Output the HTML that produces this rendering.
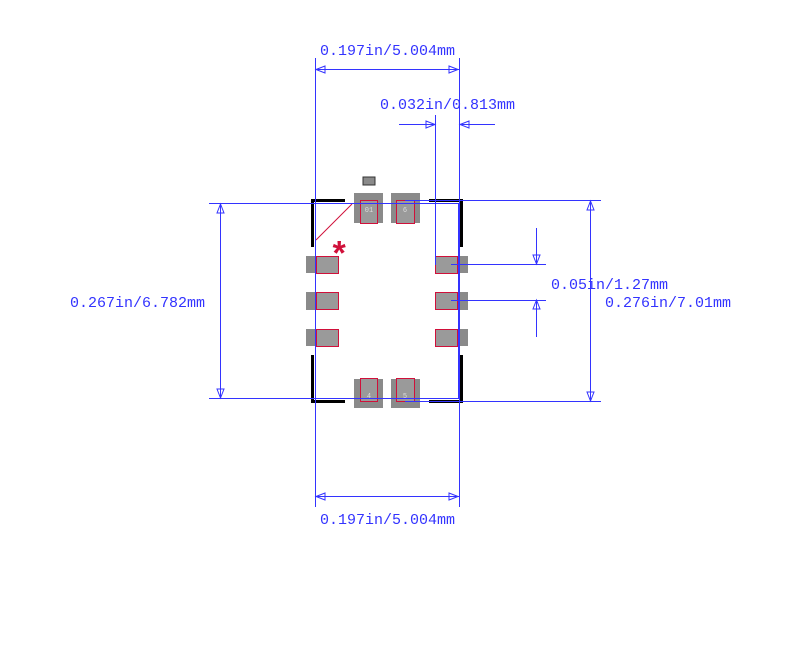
<!DOCTYPE html>
<html><head><style>body{margin:0;background:#fff}svg{display:block}</style></head>
<body>
<svg width="800" height="672" xmlns="http://www.w3.org/2000/svg" font-family="'Liberation Mono',monospace" font-size="15">
<rect width="800" height="672" fill="#fff"/>
<g fill="#8a8a8a">
<rect x="363" y="177" width="12" height="8" stroke="#333" stroke-width="1"/>
<rect x="354" y="193" width="29" height="30"/><rect x="391" y="193" width="29" height="30"/>
<rect x="354" y="379" width="29" height="29"/><rect x="391" y="379" width="29" height="29"/>
<rect x="306" y="256" width="33" height="17"/><rect x="306" y="292" width="33" height="18"/><rect x="306" y="329" width="33" height="17"/>
<rect x="435" y="256" width="33" height="17"/><rect x="435" y="292" width="33" height="18"/><rect x="435" y="329" width="33" height="17"/>
</g>
<g fill="#9a9a9a" stroke="#d0103a" stroke-width="1">
<rect x="360.5" y="200.5" width="17" height="23"/><rect x="396.5" y="200.5" width="18" height="23"/>
<rect x="360.5" y="378.5" width="17" height="23"/><rect x="396.5" y="378.5" width="18" height="23"/>
<rect x="316.5" y="256.5" width="22" height="17"/><rect x="316.5" y="292.5" width="22" height="17"/><rect x="316.5" y="329.5" width="22" height="17"/>
<rect x="435.5" y="256.5" width="22" height="17"/><rect x="435.5" y="292.5" width="22" height="17"/><rect x="435.5" y="329.5" width="22" height="17"/>
</g>
<g fill="#ddd" font-size="7" text-anchor="middle">
<text x="369" y="212">01</text><text x="405" y="212">6</text><text x="369" y="398">4</text><text x="405" y="398">5</text>
</g>
<g fill="#000">
<rect x="311" y="199" width="34" height="3"/><rect x="311" y="199" width="3" height="48"/>
<rect x="311" y="355" width="3" height="48"/><rect x="311" y="400" width="34" height="3"/>
<rect x="429" y="199" width="34" height="3"/><rect x="460" y="199" width="3" height="48"/>
<rect x="460" y="355" width="3" height="48"/><rect x="429" y="400" width="34" height="3"/>
</g>
<line x1="316" y1="240" x2="352" y2="204" stroke="#d0103a" stroke-width="1"/>
<text x="329" y="266" fill="#d0103a" font-size="34" font-weight="bold">*</text>
<g stroke="#3333ff" stroke-width="1" fill="none">
<rect x="315.5" y="203.5" width="143" height="195"/>
<line x1="315.5" y1="58" x2="315.5" y2="507"/><line x1="459.5" y1="58" x2="459.5" y2="507"/>
<line x1="315" y1="69.5" x2="459" y2="69.5"/><line x1="315" y1="496.5" x2="459" y2="496.5"/>
<line x1="435.5" y1="115" x2="435.5" y2="265"/>
<line x1="399" y1="124.5" x2="435" y2="124.5"/><line x1="459" y1="124.5" x2="495" y2="124.5"/>
<line x1="209" y1="203.5" x2="315" y2="203.5"/><line x1="209" y1="398.5" x2="315" y2="398.5"/>
<line x1="220.5" y1="204" x2="220.5" y2="398"/>
<line x1="405" y1="200.5" x2="601" y2="200.5"/><line x1="405" y1="401.5" x2="601" y2="401.5"/>
<line x1="590.5" y1="201" x2="590.5" y2="401"/>
<line x1="451" y1="264.5" x2="546" y2="264.5"/><line x1="451" y1="300.5" x2="546" y2="300.5"/>
<line x1="536.5" y1="228" x2="536.5" y2="264"/><line x1="536.5" y1="300" x2="536.5" y2="337"/>
<path d="M316 69.5 L325 66 L325 73 Z"/><path d="M458 69.5 L449 66 L449 73 Z"/>
<path d="M316 496.5 L325 493 L325 500 Z"/><path d="M458 496.5 L449 493 L449 500 Z"/>
<path d="M435 124.5 L426 121 L426 128 Z"/><path d="M460 124.5 L469 121 L469 128 Z"/>
<path d="M220.5 204 L217 213 L224 213 Z"/><path d="M220.5 398 L217 389 L224 389 Z"/>
<path d="M590.5 201 L587 210 L594 210 Z"/><path d="M590.5 401 L587 392 L594 392 Z"/>
<path d="M536.5 264 L533 255 L540 255 Z"/><path d="M536.5 300 L533 309 L540 309 Z"/>
</g>
<g fill="#3333ff">
<text x="320" y="55">0.197in/5.004mm</text>
<text x="380" y="109">0.032in/0.813mm</text>
<text x="70" y="307">0.267in/6.782mm</text>
<text x="551" y="289">0.05in/1.27mm</text>
<text x="605" y="307">0.276in/7.01mm</text>
<text x="320" y="524">0.197in/5.004mm</text>
</g>
</svg>
</body></html>
